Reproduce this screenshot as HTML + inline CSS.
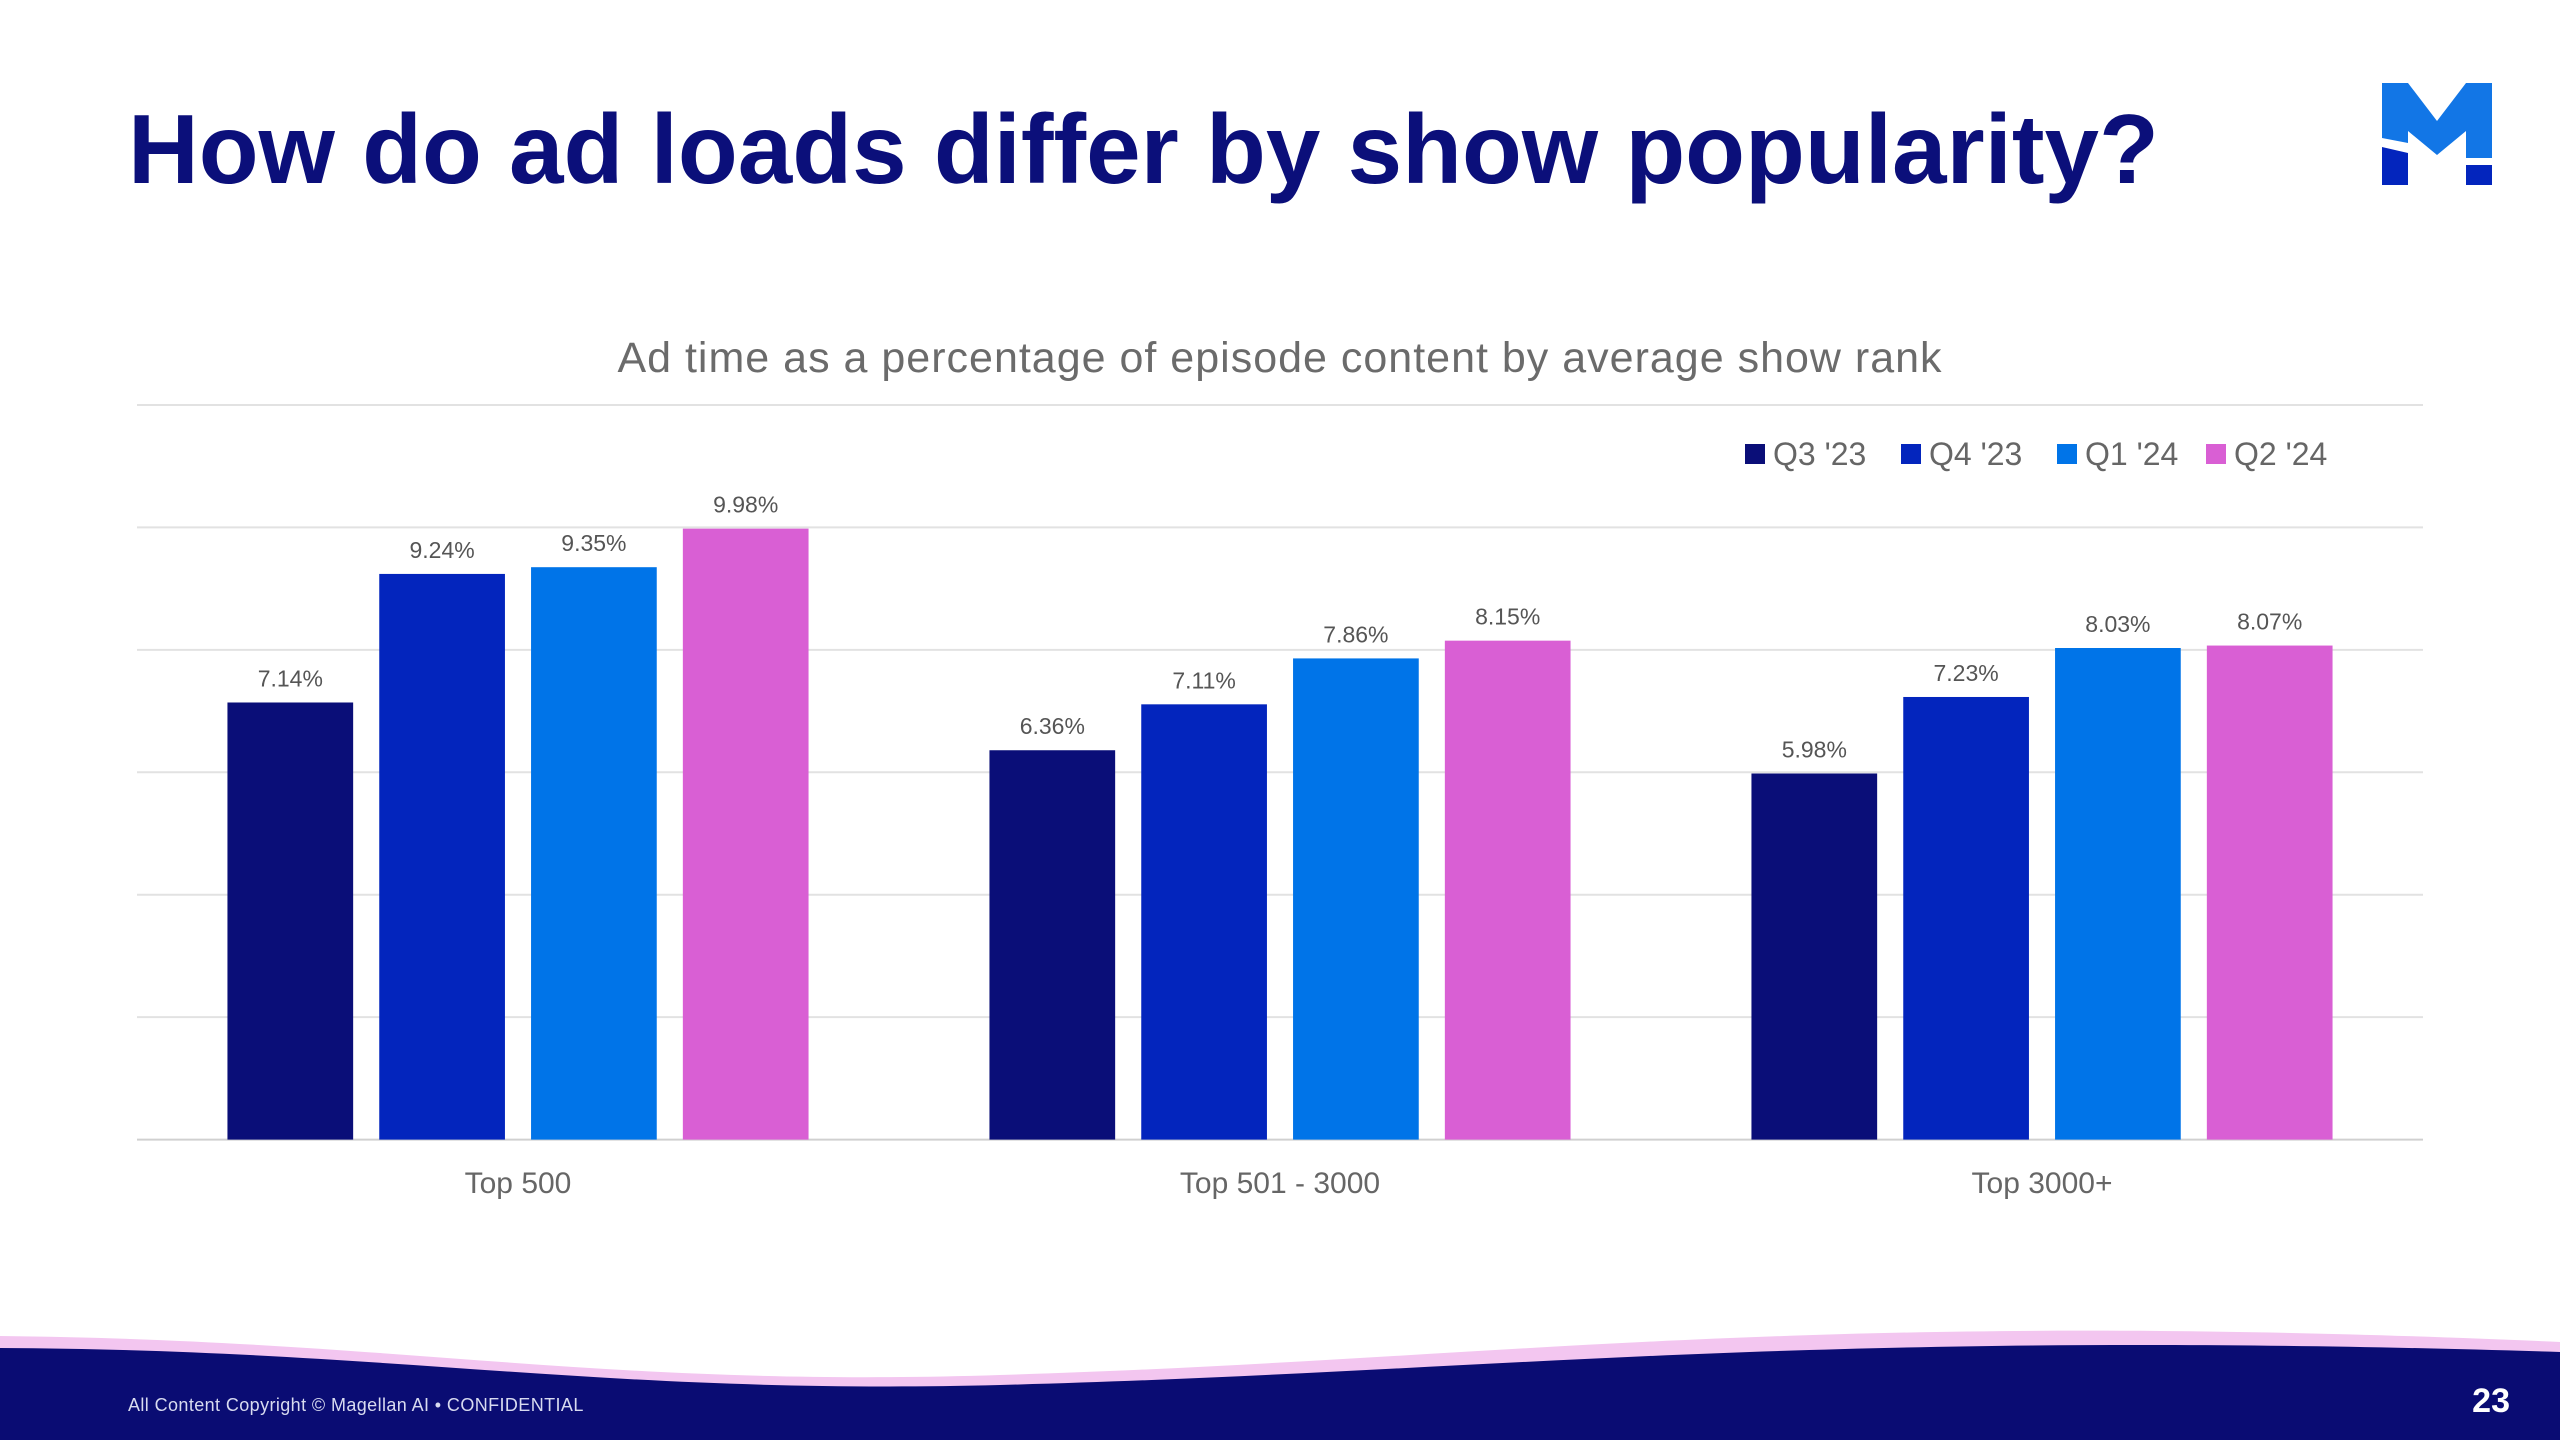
<!DOCTYPE html>
<html><head><meta charset="utf-8"><style>
html,body{margin:0;padding:0;background:#fff;}
body{width:2560px;height:1440px;position:relative;overflow:hidden;font-family:"Liberation Sans",sans-serif;}
#title{position:absolute;left:128px;top:96px;font-size:98px;font-weight:bold;color:#0b0f7a;letter-spacing:0px;margin:0;line-height:1.1;}
</style></head><body>
<h1 id="title">How do ad loads differ by show popularity?</h1>
<svg style="position:absolute;left:2382px;top:83px" width="110" height="102" viewBox="0 0 110 102">
<polygon points="0,0 26,0 55,38 84,0 110,0 110,75 84,75 84,48 55,72 26,48 26,60 0,55" fill="#1276e6"/>
<polygon points="0,64 26,70 26,102 0,102" fill="#0325bd"/>
<rect x="84" y="82" width="26" height="20" fill="#0325bd"/>
</svg>
<svg id="chart" width="2560" height="1300" style="position:absolute;left:0;top:0"></svg>
<svg width="2560" height="120" style="position:absolute;left:0;top:1320px" viewBox="0 0 2560 120">
<path d="M0,16 C400,20 600,68 1000,55 C1500,40 1800,-12 2560,22 L2560,120 L0,120 Z" fill="#f3c6f0"/>
<path d="M0,28 C400,30 600,75 1000,65 C1500,52 1800,8 2560,32 L2560,120 L0,120 Z" fill="#0a0c73"/>
</svg>
<div style="position:absolute;left:128px;top:1395px;font-size:18px;letter-spacing:0.4px;color:#d8dbf0;">All Content Copyright © Magellan AI • CONFIDENTIAL</div>
<div style="position:absolute;right:50px;top:1382px;font-size:34px;font-weight:bold;color:#fff;">23</div>
<script>
const categories=["Top 500","Top 501 - 3000","Top 3000+"];
const seriesNames=["Q3 '23","Q4 '23","Q1 '24","Q2 '24"];
const q3=[7.14,6.36,5.98];
const q4=[9.24,7.11,7.23];
const q1=[9.35,7.86,8.03];
const q2=[9.98,8.15,8.07];
const yTicks=[0,2,4,6,8,10,12];
const colors=["#0a0e78","#0325bd","#0074e8","#d95fd4"];
const series=[q3,q4,q1,q2];
const NS="http://www.w3.org/2000/svg";
const svg=document.getElementById('chart');
const x0=137,x1=2423,base=1139.6,unit=61.22;
const y=v=>base-v*unit;
const groupW=(x1-x0)/categories.length;
const barW=125.7,step=151.8;
const xBar=(g,s)=>x0+g*groupW+groupW/2-(step*1.5+barW/2)+s*step;
function mk(t,a){const e=document.createElementNS(NS,t);for(const k in a)e.setAttribute(k,a[k]);svg.appendChild(e);return e;}
let st=mk('text',{x:1280,y:372,'text-anchor':'middle','font-size':43,'letter-spacing':1,fill:'#6b6b6b','font-family':'Liberation Sans, sans-serif'});
st.textContent='Ad time as a percentage of episode content by average show rank';


yTicks.forEach(t=>{
 const l=mk('line',{x1:x0,x2:x1,y1:y(t),y2:y(t),stroke:t===0?'#d0d0d0':'#e2e2e2','stroke-width':2});
 
 
});
series.forEach((arr,s)=>{
 arr.forEach((v,g)=>{
  const r=mk('rect',{x:xBar(g,s),y:y(v),width:barW,height:base-y(v),fill:colors[s]});
  
  
  const tx=mk('text',{x:xBar(g,s)+barW/2,y:y(v)-16,'text-anchor':'middle','font-size':23,fill:'#555'});
  tx.textContent=v.toFixed(2)+'%';
  
  
 });
});
categories.forEach((c,g)=>{
 const t=mk('text',{x:x0+g*groupW+groupW/2,y:1193,'text-anchor':'middle','font-size':30,fill:'#666'});
 t.textContent=c;
 
 
});
const lx=[1745,1901,2057,2206];
seriesNames.forEach((n,i)=>{
 const r=mk('rect',{x:lx[i],y:444,width:20,height:20,fill:colors[i]});
 
 
 const t=mk('text',{x:lx[i]+28,y:465,'font-size':32,fill:'#666'});
 t.textContent=n;
 
 
});
</script>
</body></html>
